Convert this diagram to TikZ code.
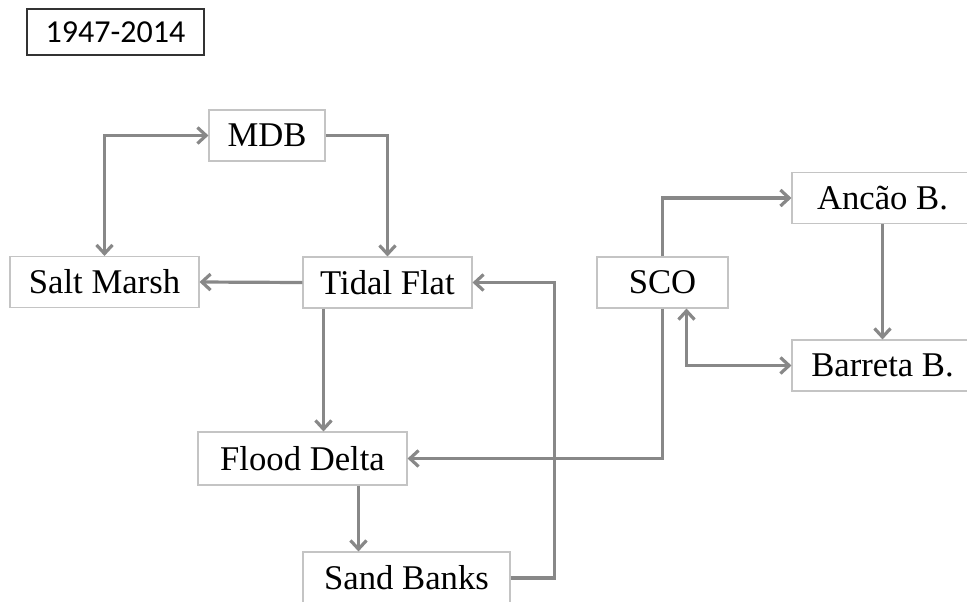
\documentclass[tikz,border=0pt]{standalone}
\usepackage{fontspec}
\setmainfont{Liberation Serif}
\newfontfamily\yearfont{Carlito}
\usetikzlibrary{arrows.meta,calc}

\definecolor{flowgray}{HTML}{888888}
\definecolor{boxgray}{HTML}{C4C4C4}

\begin{document}
\begin{tikzpicture}[x=0.75pt,y=-0.75pt,
	box/.style={draw=boxgray,line width=0.8pt,fill=white,inner sep=0pt,
		minimum height=51*0.75pt,font=\fontsize{26}{30}\selectfont},
	yearbox/.style={draw=black!80,line width=0.8pt,inner sep=0pt,
		minimum width=177*0.75pt,minimum height=46*0.75pt,
		font=\yearfont\fontsize{24}{28}\selectfont},
	tip/.style={Straight Barb[length=6.5pt,width=12pt]},
	flow/.style={draw=flowgray,line width=2.4pt,-{Straight Barb[length=6.5pt,width=12pt]}},
	both/.style={flow,{Straight Barb[length=6.5pt,width=12pt]}-{Straight Barb[length=6.5pt,width=12pt]}}]
	\useasboundingbox (0,0) rectangle (967,601);

	\node[yearbox] (year) at (115.5,32) {1947-2014};

	\node[box,minimum width=116*0.75pt] (mdb) at (267,135.5) {MDB};
	\node[box,minimum width=189*0.75pt] (saltmarsh) at (104.5,282) {Salt Marsh};
	\node[box,minimum width=169*0.75pt] (tidal) at (387.5,282.5) {Tidal Flat};
	\node[box,minimum width=131*0.75pt] (sco) at (662.5,282.5) {SCO};
	\node[box,minimum width=181*0.75pt] (ancao) at (882.5,198) {Ancão B.};
	\node[box,minimum width=181*0.75pt] (barreta) at (882.5,365.5) {Barreta B.};
	\node[box,minimum width=209*0.75pt,minimum height=53*0.75pt] (flood) at (302.5,458.5) {Flood Delta};
	\node[box,minimum width=207*0.75pt,minimum height=52*0.75pt] (sand) at (406.5,578) {Sand Banks};

	\coordinate (tf) at ($(tidal.south west)+(21,0)$);
	\coordinate (fs) at ($(sand.north west)+(56,0)$);
	\coordinate (sb) at ($(sco.south)+(24,0)$);

	% left group
	\draw[both] (mdb.west) -| (saltmarsh.north);
	\draw[flow] (mdb.east) -| (tidal.north);
	\draw[flow] (tidal.west) -- (saltmarsh.east);
	\draw[flow] (tf) -- (tf |- flood.north);
	\draw[flow] (fs |- flood.south) -- (fs);
	\draw[flow] (sand.east) -- ++(44,0) |- (tidal.east);

	% right group
	\draw[flow] (sco.south) |- (flood.east);
	\draw[flow] (sco.north) |- (ancao.west);
	\draw[flow] (ancao.south) -- (barreta.north);
	\draw[both] (sb) |- (barreta.west);
\end{tikzpicture}
\end{document}
